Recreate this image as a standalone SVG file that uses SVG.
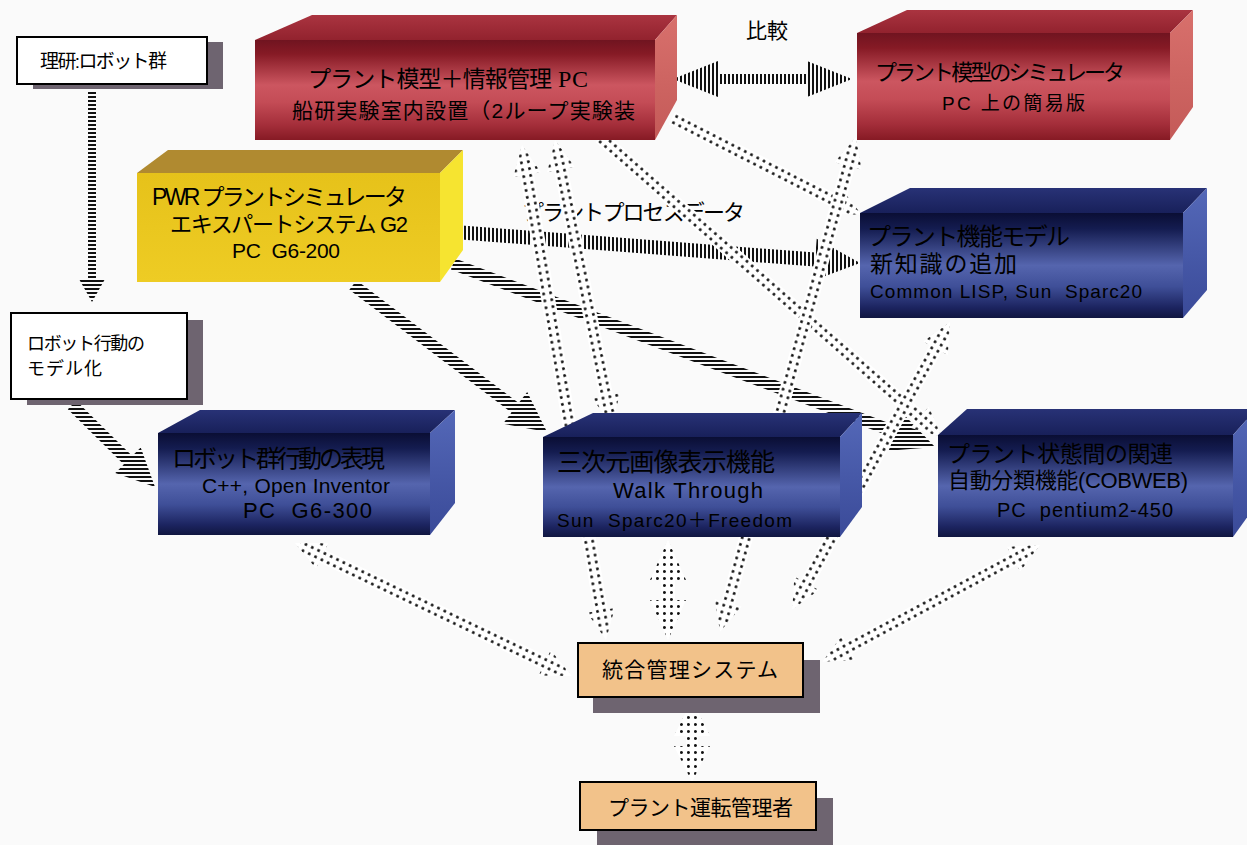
<svg xmlns="http://www.w3.org/2000/svg" width="1247" height="845" viewBox="0 0 1247 845">
<style>
.t{font-family:"Liberation Sans","Noto Sans CJK JP",sans-serif;fill:#000}
.l{font-family:"Liberation Sans","Noto Sans CJK JP",sans-serif;fill:#000}
.s{font-family:"Liberation Serif","Noto Sans CJK JP",serif;fill:#000}
.bx{fill:#fff;stroke:#000;stroke-width:2}
.ob{fill:#f2c28a;stroke:#000;stroke-width:2}
.sh{fill:#6e6470}
.dw{fill:#fff}
.dd{fill:url(#dt)}
.hs{fill:url(#hs)}
.vs{fill:url(#vs)}
</style>
<defs>
<pattern id="hs" width="4" height="4" patternUnits="userSpaceOnUse"><rect width="4" height="2" fill="#111"/></pattern>
<pattern id="vs" width="4" height="4" patternUnits="userSpaceOnUse"><rect width="2" height="4" fill="#111"/></pattern>
<pattern id="dt" width="7" height="7" patternUnits="userSpaceOnUse"><circle cx="3.5" cy="3.5" r="1.5" fill="#111"/></pattern>
<linearGradient id="rf" x1="0" y1="0" x2="0" y2="1">
<stop offset="0" stop-color="#701420"/><stop offset="0.14" stop-color="#861a25"/><stop offset="0.45" stop-color="#cc5660"/><stop offset="0.62" stop-color="#c44c56"/><stop offset="0.85" stop-color="#a42e3a"/><stop offset="1" stop-color="#861a24"/>
</linearGradient>
<linearGradient id="rt" x1="0" y1="0" x2="0" y2="1"><stop offset="0" stop-color="#aa3440"/><stop offset="1" stop-color="#92222e"/></linearGradient>
<linearGradient id="rs" x1="0" y1="0" x2="0" y2="1"><stop offset="0" stop-color="#d8706c"/><stop offset="1" stop-color="#c45a58"/></linearGradient>
<linearGradient id="bf" x1="0" y1="0" x2="0" y2="1">
<stop offset="0" stop-color="#0a0e34"/><stop offset="0.15" stop-color="#141c50"/><stop offset="0.5" stop-color="#5565ae"/><stop offset="0.7" stop-color="#3f4f98"/><stop offset="0.9" stop-color="#1c2460"/><stop offset="1" stop-color="#101640"/>
</linearGradient>
<linearGradient id="bt" x1="0" y1="0" x2="0" y2="1"><stop offset="0" stop-color="#283276"/><stop offset="1" stop-color="#18205a"/></linearGradient>
<linearGradient id="bs" x1="0" y1="0" x2="0" y2="1"><stop offset="0" stop-color="#5468b8"/><stop offset="1" stop-color="#3a4a98"/></linearGradient>
<linearGradient id="yf" x1="0" y1="0" x2="0" y2="1"><stop offset="0" stop-color="#e6c21a"/><stop offset="1" stop-color="#eecc24"/></linearGradient>
</defs>
<rect width="1247" height="845" fill="#fafafa"/>

<g id="connectors">
  <polygon class="hs" points="88,90 96,90 96,279 105,279 92,302 79,279 88,279"/>
  <polygon class="hs" points="67.8,409.3 123.8,464.6 115.3,473.1 155,487 140.7,447.5 132.2,456 76.2,400.7"/>
  <polygon class="hs" points="349.4,289.8 511.5,412.6 503,423.7 547,432 527.2,391.9 518.7,403 356.6,280.2"/>
  <polygon class="hs" points="450.9,269.6 893.6,437.7 888.6,450.8 935,447 902.8,413.4 897.8,426.5 455.1,258.4"/>
  <polygon class="vs" points="454.5,239 814.6,266.6 813.5,280.5 860,263 816.7,238.7 815.6,252.6 455.5,225"/>
  <polygon class="vs" points="673,79 718,61 718,74 807,74 807,61 852,79 807,97 807,84 718,84 718,97"/>
  <text class="t" x="746" y="38" font-size="21" textLength="42">比較</text>
  <text class="t" x="522" y="220" font-size="22" textLength="223">プラントプロセスデータ</text>
  <g transform="translate(522,145) rotate(80.37)"><path class="dw" d="M0,0 L30,-14 L30,-7 L472,-7 L472,-14 L502,0 L472,14 L472,7 L30,7 L30,14 Z"/><path class="dd" d="M0,0 L30,-14 L30,-7 L472,-7 L472,-14 L502,0 L472,14 L472,7 L30,7 L30,14 Z"/></g>
  <g transform="translate(555,140) rotate(78.69)"><path class="dw" d="M0,0 L30,-14 L30,-7 L261,-7 L261,-14 L291,0 L261,14 L261,7 L30,7 L30,14 Z"/><path class="dd" d="M0,0 L30,-14 L30,-7 L261,-7 L261,-14 L291,0 L261,14 L261,7 L30,7 L30,14 Z"/></g>
  <g transform="translate(600,137) rotate(41.26)"><path class="dw" d="M0,-7 L425,-7 L425,-14 L455,0 L425,14 L425,7 L0,7 Z"/><path class="dd" d="M0,-7 L425,-7 L425,-14 L455,0 L425,14 L425,7 L0,7 Z"/></g>
  <g transform="translate(672,118) rotate(27.04)"><path class="dw" d="M0,-7 L183,-7 L183,-14 L213,0 L183,14 L183,7 L0,7 Z"/><path class="dd" d="M0,-7 L183,-7 L183,-14 L213,0 L183,14 L183,7 L0,7 Z"/></g>
  <g transform="translate(856,137) rotate(105.36)"><path class="dw" d="M0,0 L30,-14 L30,-7 L483,-7 L483,-14 L513,0 L483,14 L483,7 L30,7 L30,14 Z"/><path class="dd" d="M0,0 L30,-14 L30,-7 L483,-7 L483,-14 L513,0 L483,14 L483,7 L30,7 L30,14 Z"/></g>
  <g transform="translate(668,540) rotate(90)"><path class="dw" d="M0,0 L40,-18 L40,-7 L60,-7 L60,-18 L100,0 L60,18 L60,7 L40,7 L40,18 Z"/><path class="dd" d="M0,0 L40,-18 L40,-7 L60,-7 L60,-18 L100,0 L60,18 L60,7 L40,7 L40,18 Z"/></g>
  <g transform="translate(950,322) rotate(118.75)"><path class="dw" d="M0,0 L30,-14 L30,-7 L298,-7 L298,-14 L328,0 L298,14 L298,7 L30,7 L30,14 Z"/><path class="dd" d="M0,0 L30,-14 L30,-7 L298,-7 L298,-14 L328,0 L298,14 L298,7 L30,7 L30,14 Z"/></g>
  <g transform="translate(1040,545) rotate(151.78)"><path class="dw" d="M0,0 L30,-14 L30,-7 L217,-7 L217,-14 L247,0 L217,14 L217,7 L30,7 L30,14 Z"/><path class="dd" d="M0,0 L30,-14 L30,-7 L217,-7 L217,-14 L247,0 L217,14 L217,7 L30,7 L30,14 Z"/></g>
  <g transform="translate(295,543) rotate(25.65)"><path class="dw" d="M0,0 L30,-14 L30,-7 L277,-7 L277,-14 L307,0 L277,14 L277,7 L30,7 L30,14 Z"/><path class="dd" d="M0,0 L30,-14 L30,-7 L277,-7 L277,-14 L307,0 L277,14 L277,7 L30,7 L30,14 Z"/></g>
  <g transform="translate(692,700) rotate(90)"><path class="dw" d="M0,0 L36,-18 L36,-6 L46,-6 L46,-18 L82,0 L46,18 L46,6 L36,6 L36,18 Z"/><path class="dd" d="M0,0 L36,-18 L36,-6 L46,-6 L46,-18 L82,0 L46,18 L46,6 L36,6 L36,18 Z"/></g>
</g>

<g id="riken">
  <rect class="sh" x="33" y="42" width="190" height="47"/>
  <rect class="bx" x="17" y="37" width="190" height="47"/>
  <text class="t" x="40" y="68" font-size="19" textLength="127">理研:ロボット群</text>
</g>

<g id="robot-model">
  <rect class="sh" x="27" y="320" width="176" height="85"/>
  <rect class="bx" x="11" y="313" width="176" height="86"/>
  <text class="t" x="27" y="350" font-size="18" textLength="118">ロボット行動の</text>
  <text class="t" x="27" y="375" font-size="18" textLength="75">モデル化</text>
</g>

<g id="plant-model-pc">
  <polygon points="255,40 312,15 677,15 655,40" fill="url(#rt)"/>
  <polygon points="655,40 677,15 677,100 655,140" fill="url(#rs)"/>
  <rect x="255" y="40" width="400" height="100" fill="url(#rf)"/>
  <text class="t" x="308" y="87" font-size="23" textLength="244">プラント模型＋情報管理</text>
  <text class="s" x="558" y="87" font-size="24" textLength="30">PC</text>
  <text class="t" x="292" y="118" font-size="21" textLength="343">船研実験室内設置（2ループ実験装</text>
</g>

<g id="plant-sim">
  <polygon points="857,33 907,10 1193,10 1170,33" fill="url(#rt)"/>
  <polygon points="1170,33 1193,10 1193,107 1170,140" fill="url(#rs)"/>
  <rect x="857" y="33" width="313" height="107" fill="url(#rf)"/>
  <text class="t" x="875" y="80" font-size="22" textLength="250">プラント模型のシミュレータ</text>
  <text class="t" x="942" y="110" font-size="19" textLength="143">PC 上の簡易版</text>
</g>

<g id="pwr-sim">
  <polygon points="137,173 168,150 463,150 440,173" fill="#b08a30"/>
  <polygon points="440,173 463,150 463,250 440,282" fill="#f6e430"/>
  <rect x="137" y="173" width="303" height="109" fill="url(#yf)"/>
  <text class="t" x="152" y="205" font-size="23" textLength="255">PWR プラントシミュレータ</text>
  <text class="t" x="170" y="232" font-size="22" textLength="238">エキスパートシステム G2</text>
  <text class="l" x="232" y="258" font-size="21" textLength="108" xml:space="preserve">PC  G6-200</text>
</g>

<g id="plant-function-model">
  <polygon points="860,213 910,188 1207,188 1183,213" fill="url(#bt)"/>
  <polygon points="1183,213 1207,188 1207,290 1183,318" fill="url(#bs)"/>
  <rect x="860" y="213" width="323" height="105" fill="url(#bf)"/>
  <text class="t" x="867" y="245" font-size="24" textLength="203">プラント機能モデル</text>
  <text class="t" x="870" y="272" font-size="23" textLength="147">新知識の追加</text>
  <text class="l" x="870" y="298" font-size="19" textLength="272" xml:space="preserve">Common LISP, Sun  Sparc20</text>
</g>

<g id="robot-behavior">
  <polygon points="158,433 200,410 455,410 430,433" fill="url(#bt)"/>
  <polygon points="430,433 455,410 455,503 430,535" fill="url(#bs)"/>
  <rect x="158" y="433" width="272" height="102" fill="url(#bf)"/>
  <text class="t" x="172" y="467" font-size="24" textLength="213">ロボット群行動の表現</text>
  <text class="l" x="202" y="493" font-size="21" textLength="188">C++, Open Inventor</text>
  <text class="l" x="243" y="518" font-size="22" textLength="129" xml:space="preserve">PC  G6-300</text>
</g>

<g id="3d-display">
  <polygon points="543,437 593,413 862,413 840,437" fill="url(#bt)"/>
  <polygon points="840,437 862,413 862,507 840,537" fill="url(#bs)"/>
  <rect x="543" y="437" width="297" height="100" fill="url(#bf)"/>
  <text class="t" x="557" y="471" font-size="25" textLength="218">三次元画像表示機能</text>
  <text class="l" x="613" y="498" font-size="22" textLength="150">Walk Through</text>
  <text class="l" x="557" y="527" font-size="19" textLength="235" xml:space="preserve">Sun  Sparc20＋Freedom</text>
</g>

<g id="plant-state">
  <polygon points="938,435 967,409 1256,409 1233,435" fill="url(#bt)"/>
  <polygon points="1233,435 1256,409 1256,505 1233,537" fill="url(#bs)"/>
  <rect x="938" y="435" width="295" height="102" fill="url(#bf)"/>
  <text class="t" x="947" y="462" font-size="23" textLength="226">プラント状態間の関連</text>
  <text class="t" x="948" y="488" font-size="22" textLength="240">自動分類機能(COBWEB)</text>
  <text class="l" x="997" y="517" font-size="20" textLength="176" xml:space="preserve">PC  pentium2-450</text>
</g>

<g id="integrated-system">
  <rect class="sh" x="593" y="660" width="227" height="53"/>
  <rect class="ob" x="578" y="643" width="225" height="54"/>
  <text class="t" x="602" y="677" font-size="21" textLength="176">統合管理システム</text>
</g>

<g id="plant-operator">
  <rect class="sh" x="597" y="798" width="236" height="50"/>
  <rect class="ob" x="580" y="782" width="236" height="48"/>
  <text class="t" x="608" y="815" font-size="21" textLength="185">プラント運転管理者</text>
</g>
</svg>
